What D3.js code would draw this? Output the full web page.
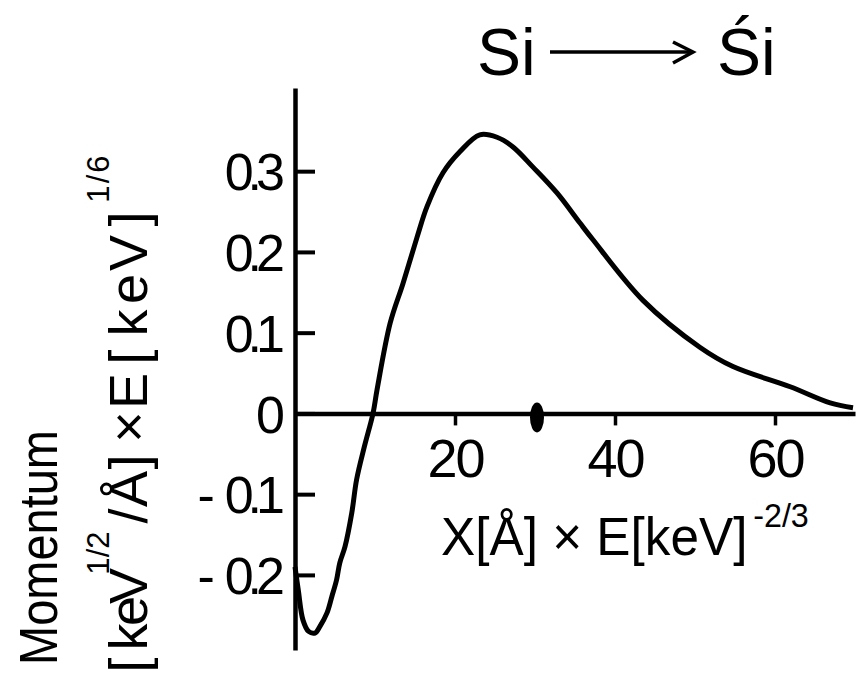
<!DOCTYPE html>
<html>
<head>
<meta charset="utf-8">
<script src="https://cdn.jsdelivr.net/npm/d3@7"></script>
<style>
  body { margin: 0; background: #fff; }
  text { font-family: "Liberation Sans", Arial, sans-serif; fill: #000; }
</style>
</head>
<body>
<svg id="chart"></svg>
<script>
// curve
const xVals = [0, 0.4, 1.0, 1.7, 2.5, 3.1, 4.0, 4.6, 5.2, 5.6, 6.25, 7.1, 7.7, 8.7, 9.75,
  10.25, 11.9, 13.5, 15.25, 16.5, 18.5, 20.6, 23.1, 25.25, 27.25, 29.75, 32.75, 35.6,
  37.25, 43.5, 50.6, 54.75, 61.9, 66.9, 69.75];
const yVals = [-0.19, -0.218, -0.256, -0.27, -0.272, -0.264, -0.247, -0.227, -0.206, -0.185,
  -0.165, -0.123, -0.082, -0.04, 0, 0.029, 0.112, 0.161, 0.218, 0.256, 0.298, 0.324,
  0.345, 0.342, 0.330, 0.305, 0.273, 0.236, 0.215, 0.140, 0.082, 0.058, 0.033, 0.013, 0.007];

const xTicks = [20, 40, 60];
const xTickLabels = ["20", "40", "60"];
const yTicks = [-0.2, -0.1, 0, 0.1, 0.2, 0.3];
const yTickLabels = ["- 0.2", "- 0.1", "0", "0.1", "0.2", "0.3"];

// the black blob sitting on the x axis
const blobX = [30.25];

const width = 859,
  height = 677;

const svg = d3.select("#chart")
  .attr("width", width)
  .attr("height", height)
  .attr("viewBox", [0, 0, width, height]);

const x = d3.scaleLinear().domain([0, 70]).range([295, 855]);
const y = d3.scaleLinear().domain([-0.293, 0.403]).range([650, 88]);

// y axis: ticks point into the plot, labels on the left
const yAxis = svg.append("g")
  .attr("transform", `translate(${x(0)},0)`)
  .call(d3.axisLeft(y)
    .tickValues(yTicks)
    .tickFormat((d, i) => yTickLabels[i])
    .tickSizeInner(-20)
    .tickSizeOuter(0)
    .tickPadding(16));
yAxis.select(".domain").attr("stroke", "#000").attr("stroke-width", 4.5);
yAxis.selectAll(".tick line").attr("stroke", "#000").attr("stroke-width", 4);
yAxis.selectAll(".tick text")
  .attr("font-size", 52)
  .attr("dy", "0.36em")
  .style("font-family", "Liberation Sans")
  .each(function () {
    const t = d3.select(this);
    const label = t.text();
    t.text(null);
    const neg = label.startsWith("- ");
    if (neg) t.append("tspan").text("-");
    t.append("tspan")
      .attr("dx", neg ? 10 : null)
      .attr("letter-spacing", -6)
      .text(neg ? label.slice(2) : label);
  });

// x axis along zero
const xAxis = svg.append("g")
  .attr("transform", `translate(0,${y(0)})`)
  .call(d3.axisBottom(x)
    .tickValues(xTicks)
    .tickFormat((d, i) => xTickLabels[i])
    .tickSizeInner(12)
    .tickSizeOuter(0));
xAxis.select(".domain").attr("stroke", "#000").attr("stroke-width", 4.5);
xAxis.selectAll(".tick line").attr("stroke", "#000").attr("stroke-width", 3.5);
xAxis.selectAll(".tick text")
  .attr("font-size", 54)
  .attr("letter-spacing", -2)
  .attr("y", 64)
  .attr("dy", 0)
  .style("font-family", "Liberation Sans");

svg.append("g")
  .selectAll("ellipse")
  .data(blobX)
  .join("ellipse")
  .attr("cx", (d) => x(d))
  .attr("cy", y(0) + 4)
  .attr("rx", 7)
  .attr("ry", 15)
  .attr("fill", "#000");

const line = d3.line()
  .x((d) => x(d[0]))
  .y((d) => y(d[1]))
  .curve(d3.curveCatmullRom.alpha(0.5));

svg.append("path")
  .datum(xVals.map((v, i) => [v, yVals[i]]))
  .attr("fill", "none")
  .attr("stroke", "#000")
  .attr("stroke-width", 5)
  .attr("stroke-linejoin", "round")
  .attr("d", line);

// x axis title
const xt = svg.append("text")
  .attr("transform", "translate(441,555) scale(0.95,1)")
  .attr("font-size", 54);
xt.append("tspan").text("X[Å] × E[keV]");
xt.append("tspan").attr("font-size", 34).attr("dy", -28).attr("dx", 6).text("-2/3");

// y axis title, two rotated lines
svg.append("text")
  .attr("transform", "translate(57,665) rotate(-90) scale(0.87,1)")
  .attr("font-size", 54)
  .text("Momentum");

// second line: stencil lettering, one glyph per cell, centred on its cell
// [char, centre along the line (page y), superscript?]
const yTitleGlyphs = [
  ["[", 665], ["k", 637], ["e", 611], ["V", 586],
  ["1", 566, 1], ["/", 553, 1], ["2", 540, 1],
  ["/", 516], ["Å", 489], ["]", 462],
  ["×", 427],
  ["E", 391], ["[", 357], ["k", 323], ["e", 289], ["V", 253], ["]", 219],
  ["1", 194, 1], ["/", 179, 1], ["6", 164, 1]
];
const yt = svg.append("g").attr("transform", "translate(147,0) rotate(-90)");
yt.selectAll("text")
  .data(yTitleGlyphs)
  .join("text")
  .attr("x", (d) => -d[1])
  .attr("y", (d) => (d[2] ? -38 : 0))
  .attr("font-size", (d) => (d[2] ? 31 : 54))
  .attr("text-anchor", "middle")
  .text((d) => d[0]);

// title: Si ---> Si'
const title = svg.append("g");
title.append("text").attr("x", 477).attr("y", 75).attr("font-size", 66).text("Si");
title.append("line")
  .attr("x1", 550).attr("x2", 692).attr("y1", 52).attr("y2", 52)
  .attr("stroke", "#000").attr("stroke-width", 3.5);
title.append("polyline")
  .attr("points", "673,42 693,52 673,63")
  .attr("fill", "none").attr("stroke", "#000").attr("stroke-width", 3.5)
  .attr("stroke-linejoin", "miter");
title.append("text").attr("x", 717).attr("y", 75).attr("font-size", 66).text("Śi");
</script>
</body>
</html>
